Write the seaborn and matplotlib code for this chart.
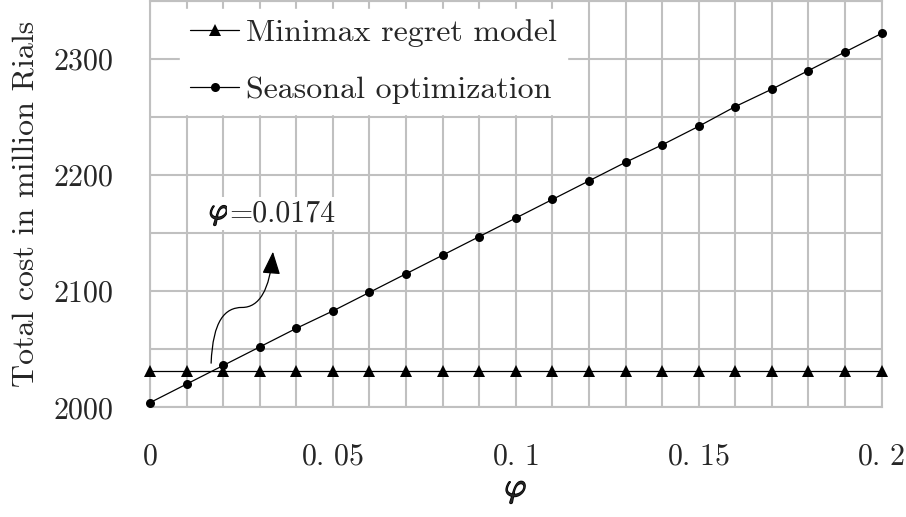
import numpy as np
import pandas as pd
import matplotlib
matplotlib.use("Agg")
import matplotlib.pyplot as plt
import matplotlib.patheffects as pe
from matplotlib.path import Path
from matplotlib.patches import FancyArrowPatch
import seaborn as sns

# data
phi = [0.00, 0.01, 0.02, 0.03, 0.04, 0.05, 0.06, 0.07, 0.08, 0.09, 0.10,
       0.11, 0.12, 0.13, 0.14, 0.15, 0.16, 0.17, 0.18, 0.19, 0.20]
minimax = [2031.6] * 21
seasonal = [2004, 2020, 2036, 2052, 2068, 2083, 2099, 2115, 2131, 2147, 2163,
            2179, 2195, 2211, 2226, 2242, 2259, 2274, 2290, 2306, 2322]
series_names = ['Minimax regret model', 'Seasonal optimization']
x_ticks = [0, 0.05, 0.1, 0.15, 0.2]
x_tick_labels = ['0', '0.05', '0.1', '0.15', '0.2']
y_ticks = [2000, 2100, 2200, 2300]
y_tick_labels = ['2000', '2100', '2200', '2300']
phi_star = 0.0174

sns.set_style('white')
plt.rcParams['font.family'] = 'serif'
plt.rcParams['font.serif'] = ['cmr10', 'DejaVu Serif']
plt.rcParams['mathtext.fontset'] = 'cm'
plt.rcParams['axes.unicode_minus'] = False
fs_tick = 21.5
fs = 23
grid_col = '#c0c0c0'
bold = [pe.withStroke(linewidth=1.1, foreground='black')]

fig = plt.figure(figsize=(9.06, 5.17), dpi=100)
ax = fig.add_axes([0.1656, 0.2122, 0.8074, 0.786])

sns.lineplot(x=phi, y=minimax, ax=ax, color='black', lw=0.9, marker='^',
             markersize=8, markeredgewidth=0, label=series_names[0], clip_on=False, zorder=4)
sns.lineplot(x=phi, y=seasonal, ax=ax, color='black', lw=0.9, marker='o',
             markersize=6.5, markeredgewidth=0, label=series_names[1], clip_on=False, zorder=4)

ax.set_xlim(0, 0.2)
ax.set_ylim(2000, 2350)
ax.set_xticks(x_ticks)
ax.set_xticklabels(['$' + t.replace('.', r'.\,') + '$' for t in x_tick_labels], fontsize=fs_tick)
ax.set_xticks(np.arange(0, 0.2001, 0.01), minor=True)
ax.set_yticks(y_ticks)
ax.set_yticklabels(['$' + t + '$' for t in y_tick_labels], fontsize=fs_tick)
ax.set_yticks(np.arange(2000, 2351, 50), minor=True)
ax.tick_params(which='both', length=0)
ax.tick_params(axis='x', pad=26)
ax.tick_params(axis='y', pad=26)
ax.grid(True, which='both', color=grid_col, lw=1.5)
ax.set_axisbelow(True)
for s in ax.spines.values():
    s.set_color(grid_col)
    s.set_linewidth(1.5)

xl = ax.set_xlabel(r'$\varphi$', fontsize=fs + 1, labelpad=4)
xl.set_path_effects(bold)
ax.set_ylabel('Total cost in million Rials', fontsize=fs, labelpad=10)

leg = ax.legend(loc='upper left', bbox_to_anchor=(0.041, 0.98), borderaxespad=0,
                fontsize=fs, frameon=True, fancybox=False, edgecolor='white',
                framealpha=1, handlelength=1.56, handletextpad=0.22,
                labelspacing=0.9, borderpad=0.3)
leg.set_zorder(5)

# annotation of the break-even point
box = dict(facecolor='white', edgecolor='none', pad=2)
ax.text(0.0217, 2167, r'$\varphi$', fontsize=fs_tick, ha='right', va='center',
        bbox=box, zorder=3, path_effects=bold)
ax.text(0.0217, 2167, '=0.0174', fontsize=fs_tick, ha='left', va='center',
        bbox=box, zorder=3)
verts = [(phi_star - 0.0007, 2038), (phi_star - 0.0002, 2075), (0.0205, 2086), (0.0252, 2086),
         (0.0298, 2086), (0.0328, 2101), (0.0336, 2134)]
codes = [Path.MOVETO, Path.CURVE4, Path.CURVE4, Path.CURVE4, Path.CURVE4, Path.CURVE4, Path.CURVE4]
arrow = FancyArrowPatch(path=Path(verts, codes), arrowstyle='-|>,head_length=1.0,head_width=0.4',
                        mutation_scale=14, color='black', lw=0.9, zorder=4)
ax.add_patch(arrow)

fig.savefig('out.png', dpi=100)
